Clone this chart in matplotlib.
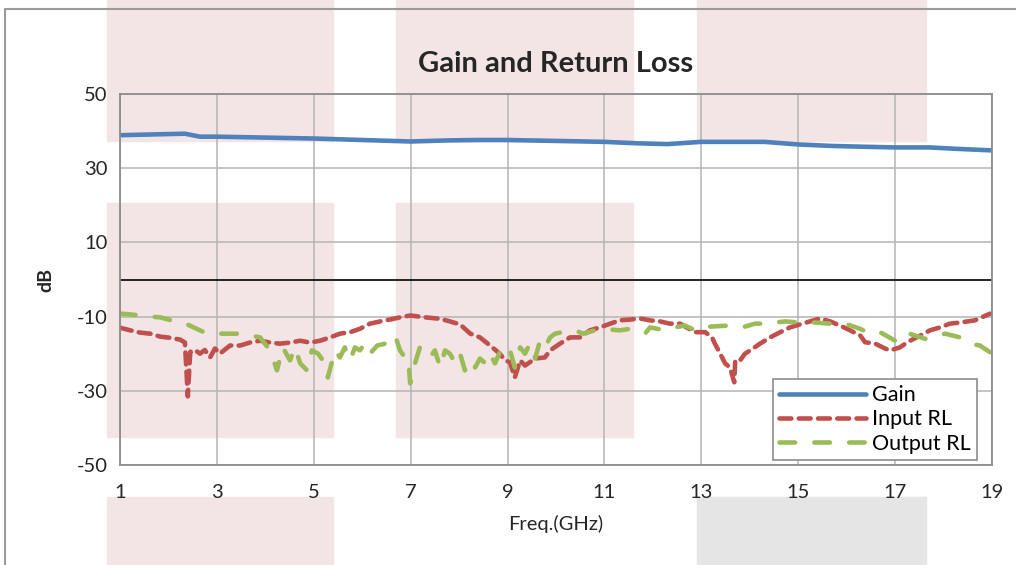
import matplotlib.pyplot as plt
from matplotlib.patches import Rectangle
from matplotlib.lines import Line2D

plt.rcParams['font.family'] = ['Lato', 'DejaVu Sans']
plt.rcParams['axes.unicode_minus'] = False

# gain (dB) vs frequency (GHz)
gain_f = [1.0, 2.34, 2.65, 3.0, 5.0, 7.0, 7.8, 8.4, 9.0, 11.0, 11.7, 12.3,
          13.0, 14.3, 15.0, 15.7, 16.3, 17.0, 17.7, 18.3, 19.0]
gain = [38.9, 39.3, 38.5, 38.5, 38.0, 37.2, 37.5, 37.6, 37.6, 37.1, 36.7, 36.5,
        37.1, 37.1, 36.4, 36.0, 35.8, 35.6, 35.6, 35.2, 34.8]

# input return loss
in_f = [1.0, 1.21, 1.41, 1.62, 1.83, 2.03, 2.24, 2.34, 2.40, 2.45, 2.55, 2.65, 2.75,
        2.86, 2.96, 3.06, 3.27, 3.48, 3.68, 3.89, 4.10, 4.30, 4.51, 4.72, 4.92,
        5.13, 5.34, 5.54, 5.75, 5.95, 6.16, 6.37, 6.57, 6.78, 6.99, 7.30, 7.61,
        7.81, 8.02, 8.23, 8.43, 8.64, 8.84, 8.95, 9.05, 9.15, 9.26, 9.36, 9.57,
        9.77, 9.88, 10.08, 10.29, 10.50, 10.70, 10.91, 11.12, 11.32, 11.53, 11.73,
        11.94, 12.15, 12.35, 12.56, 12.87, 13.08, 13.22, 13.28, 13.39, 13.49,
        13.59, 13.68, 13.70, 13.80, 13.90, 14.01, 14.21, 14.42, 14.63, 14.83,
        15.04, 15.24, 15.45, 15.66, 15.86, 16.07, 16.28, 16.38, 16.59, 16.79,
        16.90, 17.10, 17.21, 17.31, 17.52, 17.72, 17.93, 18.13, 18.34, 18.65, 18.96]
in_rl = [-13.0, -13.7, -14.3, -14.6, -15.4, -15.7, -16.2, -17.0, -31.5, -19.5, -19.0,
         -20.0, -19.0, -21.0, -18.6, -20.0, -17.8, -17.8, -17.0, -16.5, -17.0, -17.3,
         -17.0, -16.5, -17.0, -16.5, -15.6, -14.6, -14.2, -13.3, -11.9, -11.3, -10.8,
         -10.2, -9.7, -10.2, -10.6, -11.3, -12.1, -14.6, -15.6, -17.8, -20.0, -21.8,
         -22.3, -26.4, -21.8, -23.2, -21.3, -21.0, -19.1, -17.3, -15.6, -15.6, -13.7,
         -12.9, -11.9, -11.0, -10.8, -10.5, -11.0, -11.3, -11.9, -11.9, -14.2, -14.2,
         -15.6, -17.3, -20.0, -22.6, -23.7, -27.7, -21.8, -21.8, -20.0, -19.1, -17.3,
         -15.6, -14.2, -12.9, -12.1, -11.3, -10.5, -11.3, -12.4, -13.7, -15.1, -16.9,
         -17.3, -18.6, -19.1, -18.3, -17.3, -16.5, -15.1, -13.7, -12.9, -11.9, -11.6,
         -11.0, -9.2]

# output return loss
out_f = [1.0, 1.21, 1.62, 1.83, 2.14, 2.34, 2.65, 2.80, 3.11, 3.48, 3.89, 3.99,
         4.10, 4.24, 4.36, 4.51, 4.61, 4.72, 4.86, 4.96, 5.09, 5.23, 5.29, 5.44,
         5.54, 5.64, 5.75, 5.85, 5.95, 6.06, 6.16, 6.31, 6.47, 6.57, 6.68, 6.78,
         6.88, 6.95, 6.99, 7.09, 7.19, 7.30, 7.40, 7.50, 7.61, 7.71, 7.81, 7.92,
         8.02, 8.12, 8.23, 8.33, 8.43, 8.54, 8.64, 8.74, 8.84, 8.95, 9.05, 9.15,
         9.26, 9.36, 9.46, 9.57, 9.67, 9.77, 9.88, 9.98, 10.12, 10.39, 10.56, 10.91,
         11.12, 11.32, 11.53, 11.84, 11.94, 12.25, 12.46, 12.66, 12.87, 12.97,
         13.18, 13.59, 13.90, 14.11, 14.32, 14.73, 15.04, 15.35, 15.66, 15.86,
         15.97, 16.28, 16.48, 16.69, 17.00, 17.21, 17.41, 17.62, 17.82, 18.03,
         18.34, 18.55, 18.75, 18.96]
out_rl = [-9.2, -9.4, -10.0, -10.2, -11.3, -11.8, -13.7, -14.6, -14.6, -14.6, -15.6,
          -17.3, -19.1, -24.5, -18.3, -21.8, -18.3, -22.6, -24.5, -19.1, -20.0, -22.6,
          -26.4, -19.1, -21.0, -18.3, -21.8, -18.3, -19.1, -17.3, -20.0, -17.8, -17.3,
          -15.6, -15.1, -19.1, -21.0, -21.0, -28.0, -22.6, -18.3, -20.0, -21.0, -19.1,
          -23.7, -19.1, -20.0, -22.6, -20.0, -24.5, -21.8, -23.7, -21.3, -22.6, -20.0,
          -22.6, -19.6, -21.0, -19.1, -23.7, -18.3, -20.0, -17.3, -21.3, -16.5, -18.3,
          -15.6, -14.6, -14.2, -13.7, -14.6, -13.3, -13.5, -13.7, -13.3, -14.6, -12.9,
          -13.7, -12.9, -12.4, -13.7, -12.9, -12.7, -12.4, -12.7, -11.9, -11.9, -11.3,
          -11.6, -11.6, -11.9, -11.9, -11.9, -13.3, -14.6, -14.2, -16.5, -14.2, -15.1,
          -16.0, -15.6, -14.6, -15.6, -17.3, -17.8, -19.6]

xticks = [1, 3, 5, 7, 9, 11, 13, 15, 17, 19]
yticks = [-50, -30, -10, 10, 30, 50]

W, H = 1016, 565
fig = plt.figure(figsize=(W / 100, H / 100), dpi=100)

# background blocks behind the chart (figure pixel boxes: x0, y0, x1, y1 from top)
blocks = [(107, 0, 333, 141, '#f3e5e5'), (396, 0, 633, 141, '#f3e5e5'),
          (697, 0, 926, 141, '#f3e5e5'), (107, 203, 333, 437, '#f3e5e5'),
          (396, 203, 633, 437, '#f3e5e5'), (107, 497, 333, 565, '#f3e5e5'),
          (697, 497, 926, 565, '#e5e5e5')]
for x0, y0, x1, y1, c in blocks:
    fig.patches.append(Rectangle((x0 / W, 1 - y1 / H), (x1 - x0) / W, (y1 - y0) / H,
                                 transform=fig.transFigure, color=c, zorder=-5))

# outer chart border
fig.lines.append(Line2D([5 / W, 5 / W, 1.0], [0.0, 1 - 9 / H, 1 - 9 / H],
                        transform=fig.transFigure, color='#9a9a9a', lw=1.5, zorder=-4))

ax = fig.add_axes([120 / W, 1 - 465 / H, 872 / W, 371 / H])
ax.set_zorder(2)
ax.set_facecolor('none')

ax.plot(gain_f, gain, color='#4f81bd', lw=3.3, label='Gain', solid_capstyle='round')
ax.plot(in_f, in_rl, color='#c0504d', lw=3.3, label='Input RL',
        dashes=(2.6, 1.6), dash_capstyle='round')
ax.plot(out_f, out_rl, color='#9bbb59', lw=3.3, label='Output RL',
        dashes=(3.4, 4.2), dash_capstyle='round')
ax.axhline(0, color='black', lw=1.2, zorder=1)

ax.set_xlim(1, 19)
ax.set_ylim(-50, 50)
ax.set_xticks(xticks)
ax.set_yticks(yticks)
ax.tick_params(length=0, labelsize=14.5, colors='#262626', pad=14)
ax.tick_params(axis='y', pad=9)
ax.grid(True, color='#b4b4b4', lw=1.1)
ax.set_axisbelow(True)
for s in ax.spines.values():
    s.set_color('#8c8c8c')
    s.set_linewidth(1.3)

ax.set_title('Gain and Return Loss', fontsize=21, fontweight='bold', color='#262626', pad=16)
ax.set_xlabel('Freq.(GHz)', fontsize=14.5, color='#262626', labelpad=10)
ax.set_ylabel('dB', fontsize=14, fontweight='bold', color='#262626', labelpad=16)

leg = ax.legend(loc='lower right', bbox_to_anchor=(0.983, 0.013), fontsize=15.5,
                fancybox=False, framealpha=1, edgecolor='#8c8c8c', handlelength=4.0,
                borderpad=0.3, labelspacing=0.2, handletextpad=0.3, borderaxespad=0)
leg.get_frame().set_linewidth(1.2)

fig.savefig('out.png', dpi=100)
